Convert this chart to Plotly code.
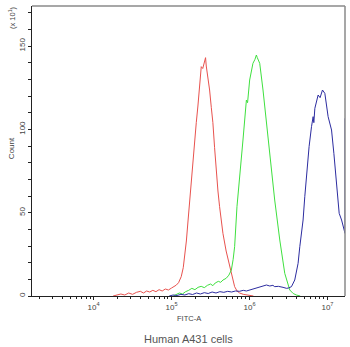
import numpy as np
import plotly.graph_objects as go

# ---- data (log10 of FITC-A intensity, count) ----
red_log = [4.25, 4.30, 4.35, 4.40, 4.45, 4.50, 4.55, 4.60, 4.64, 4.68, 4.72, 4.76, 4.80, 4.84,
           4.88, 4.92, 4.96, 5.00, 5.03, 5.06, 5.09, 5.124, 5.15, 5.167, 5.19, 5.209, 5.225,
           5.240, 5.257, 5.273, 5.295, 5.317, 5.338, 5.359, 5.370, 5.381, 5.40, 5.415, 5.425,
           5.436, 5.445, 5.46, 5.474, 5.488, 5.51, 5.530, 5.552, 5.574, 5.595, 5.616, 5.637,
           5.659, 5.70, 5.745, 5.78, 5.809, 5.84, 5.873, 5.92, 5.96, 6.0, 6.05]
red_count = [0, 0.5, 1.2, 0.6, 1.8, 1.0, 2.2, 2.8, 1.8, 3.0, 2.4, 3.4, 2.6, 3.8,
             3.0, 4.2, 3.6, 4.8, 5.5, 6.5, 8, 11.6, 17, 23.6, 33, 43.8, 53,
             63.6, 73, 83.6, 94, 104, 114, 123.6, 131, 137.6, 136.5, 139, 141,
             143, 138, 133, 128, 123.6, 113, 104, 89, 73.6, 63, 53.6, 45,
             37.6, 27, 17.6, 10, 5.6, 3, 1.8, 1.0, 0.6, 0.2, 0]

green_log = [5.02, 5.06, 5.10, 5.14, 5.18, 5.22, 5.26, 5.30, 5.34, 5.38, 5.42, 5.46, 5.50,
             5.53, 5.56, 5.60, 5.63, 5.66, 5.70, 5.735, 5.767, 5.79, 5.809, 5.839, 5.873,
             5.916, 5.96, 5.975, 6.002, 6.044, 6.07, 6.088, 6.10, 6.131, 6.173, 6.217,
             6.259, 6.323, 6.388, 6.452, 6.516, 6.56, 6.60, 6.65]
green_count = [0, 0.8, 1.8, 1.2, 2.6, 3.4, 4.6, 3.8, 5.2, 5.8, 5.0, 6.4, 7.2,
               6.2, 7.8, 8.8, 8.2, 9.6, 10.6, 12.5, 15.6, 22, 29.6, 53.6, 73.6,
               93.6, 117.6, 116, 129.6, 139.6, 142, 144.6, 143, 139.6, 123.6, 103.6,
               83.6, 57.6, 33.6, 13.6, 3.6, 1.5, 0.6, 0]

blue_log = [4.97, 5.02, 5.07, 5.12, 5.17, 5.22, 5.27, 5.32, 5.37, 5.42, 5.47, 5.52, 5.57,
            5.62, 5.67, 5.72, 5.77, 5.82, 5.87, 5.92, 5.96, 6.00, 6.04, 6.08, 6.131, 6.17,
            6.217, 6.26, 6.30, 6.323, 6.37, 6.43, 6.474, 6.50, 6.538, 6.580, 6.623, 6.645,
            6.687, 6.709, 6.731, 6.764, 6.795, 6.816, 6.825, 6.838, 6.880, 6.905, 6.936,
            6.966, 7.008, 7.052, 7.082, 7.116, 7.150, 7.181, 7.2247, 7.2247]
blue_count = [0, 0.6, 0.3, 1.0, 0.6, 1.4, 0.9, 1.8, 1.2, 2.0, 1.5, 2.4, 1.8,
              2.6, 2.2, 2.8, 2.4, 3.0, 2.8, 3.4, 3.0, 3.6, 4.2, 5.0, 5.6, 6.2,
              6.6, 6.0, 6.4, 5.6, 5.8, 5.2, 4.6, 4.8, 5.6, 9.6, 19.6, 29.6,
              45.6, 59.6, 73.6, 89.6, 101.6, 107.6, 104, 112.6, 120.6, 119, 123.6,
              121.6, 107.6, 99.6, 85.6, 69.6, 49.6, 45.6, 37.6, 106.6]

x_major_exp = [4, 5, 6, 7]
x_major_text = ["10<sup>4</sup>", "10<sup>5</sup>", "10<sup>6</sup>", "10<sup>7</sup>"]
y_major = [0, 50, 100, 150]

font_family = "Liberation Sans, Arial, sans-serif"

fig = go.Figure()
for lg, cnt, col in [(red_log, red_count, "#e8524e"),
                     (green_log, green_count, "#3fe03f"),
                     (blue_log, blue_count, "#2c2ca0")]:
    fig.add_trace(go.Scatter(x=np.power(10.0, lg), y=cnt, mode="lines",
                             line=dict(color=col, width=1), showlegend=False,
                             hoverinfo="skip"))

minor_x = [m * 10.0 ** e for e in [3, 4, 5, 6, 7] for m in range(2, 10)
           if 3.21 <= np.log10(m * 10.0 ** e) <= 7.2247]

fig.update_layout(
    width=350, height=347,
    margin=dict(l=32, r=5, t=6, b=51),
    paper_bgcolor="white", plot_bgcolor="white",
    font=dict(family=font_family, size=8, color="#444"),
    xaxis=dict(type="log", range=[3.21, 7.2247], showgrid=False, zeroline=False,
               showline=True, linecolor="#222", linewidth=1,
               ticks="outside", ticklen=3, tickcolor="#222",
               tickvals=[10.0 ** e for e in x_major_exp], ticktext=x_major_text,
               tickfont=dict(size=8, color="#444"),
               minor=dict(tickvals=minor_x, ticks="outside", ticklen=2, tickcolor="#222")),
    yaxis=dict(range=[0, 174], showgrid=False, zeroline=False,
               showline=True, linecolor="#222", linewidth=1,
               ticks="outside", ticklen=3, tickcolor="#222",
               tickvals=y_major, ticktext=[str(v) for v in y_major], tickangle=-90,
               tickfont=dict(size=8, color="#444"),
               minor=dict(dtick=10, ticks="outside", ticklen=3, tickcolor="#222")),
    shapes=[
        dict(type="line", xref="paper", yref="paper", x0=0, x1=1, y0=1, y1=1,
             line=dict(color="#8a8a8a", width=1.5)),
        dict(type="line", xref="paper", yref="paper", x0=1, x1=1, y0=0, y1=1,
             line=dict(color="#8a8a8a", width=1.5)),
    ],
    annotations=[
        dict(text="FITC-A", xref="paper", yref="paper", x=0.5, y=-0.076,
             showarrow=False, font=dict(size=7.5, color="#444"), yanchor="middle"),
        dict(text="Human A431 cells", xref="paper", yref="paper", x=0.5, y=-0.148,
             showarrow=False, font=dict(size=11, color="#555"), yanchor="middle"),
        dict(text="Count", xref="paper", yref="paper", x=-0.067, y=0.51, textangle=-90,
             showarrow=False, font=dict(size=8, color="#444"), xanchor="center",
             yanchor="middle"),
        dict(text="(x 10<sup>1</sup>)", xref="paper", yref="paper", x=-0.064, y=0.962,
             textangle=-90, showarrow=False, font=dict(size=7.5, color="#444"),
             xanchor="center", yanchor="middle"),
    ],
)

fig.write_html("out.html")
